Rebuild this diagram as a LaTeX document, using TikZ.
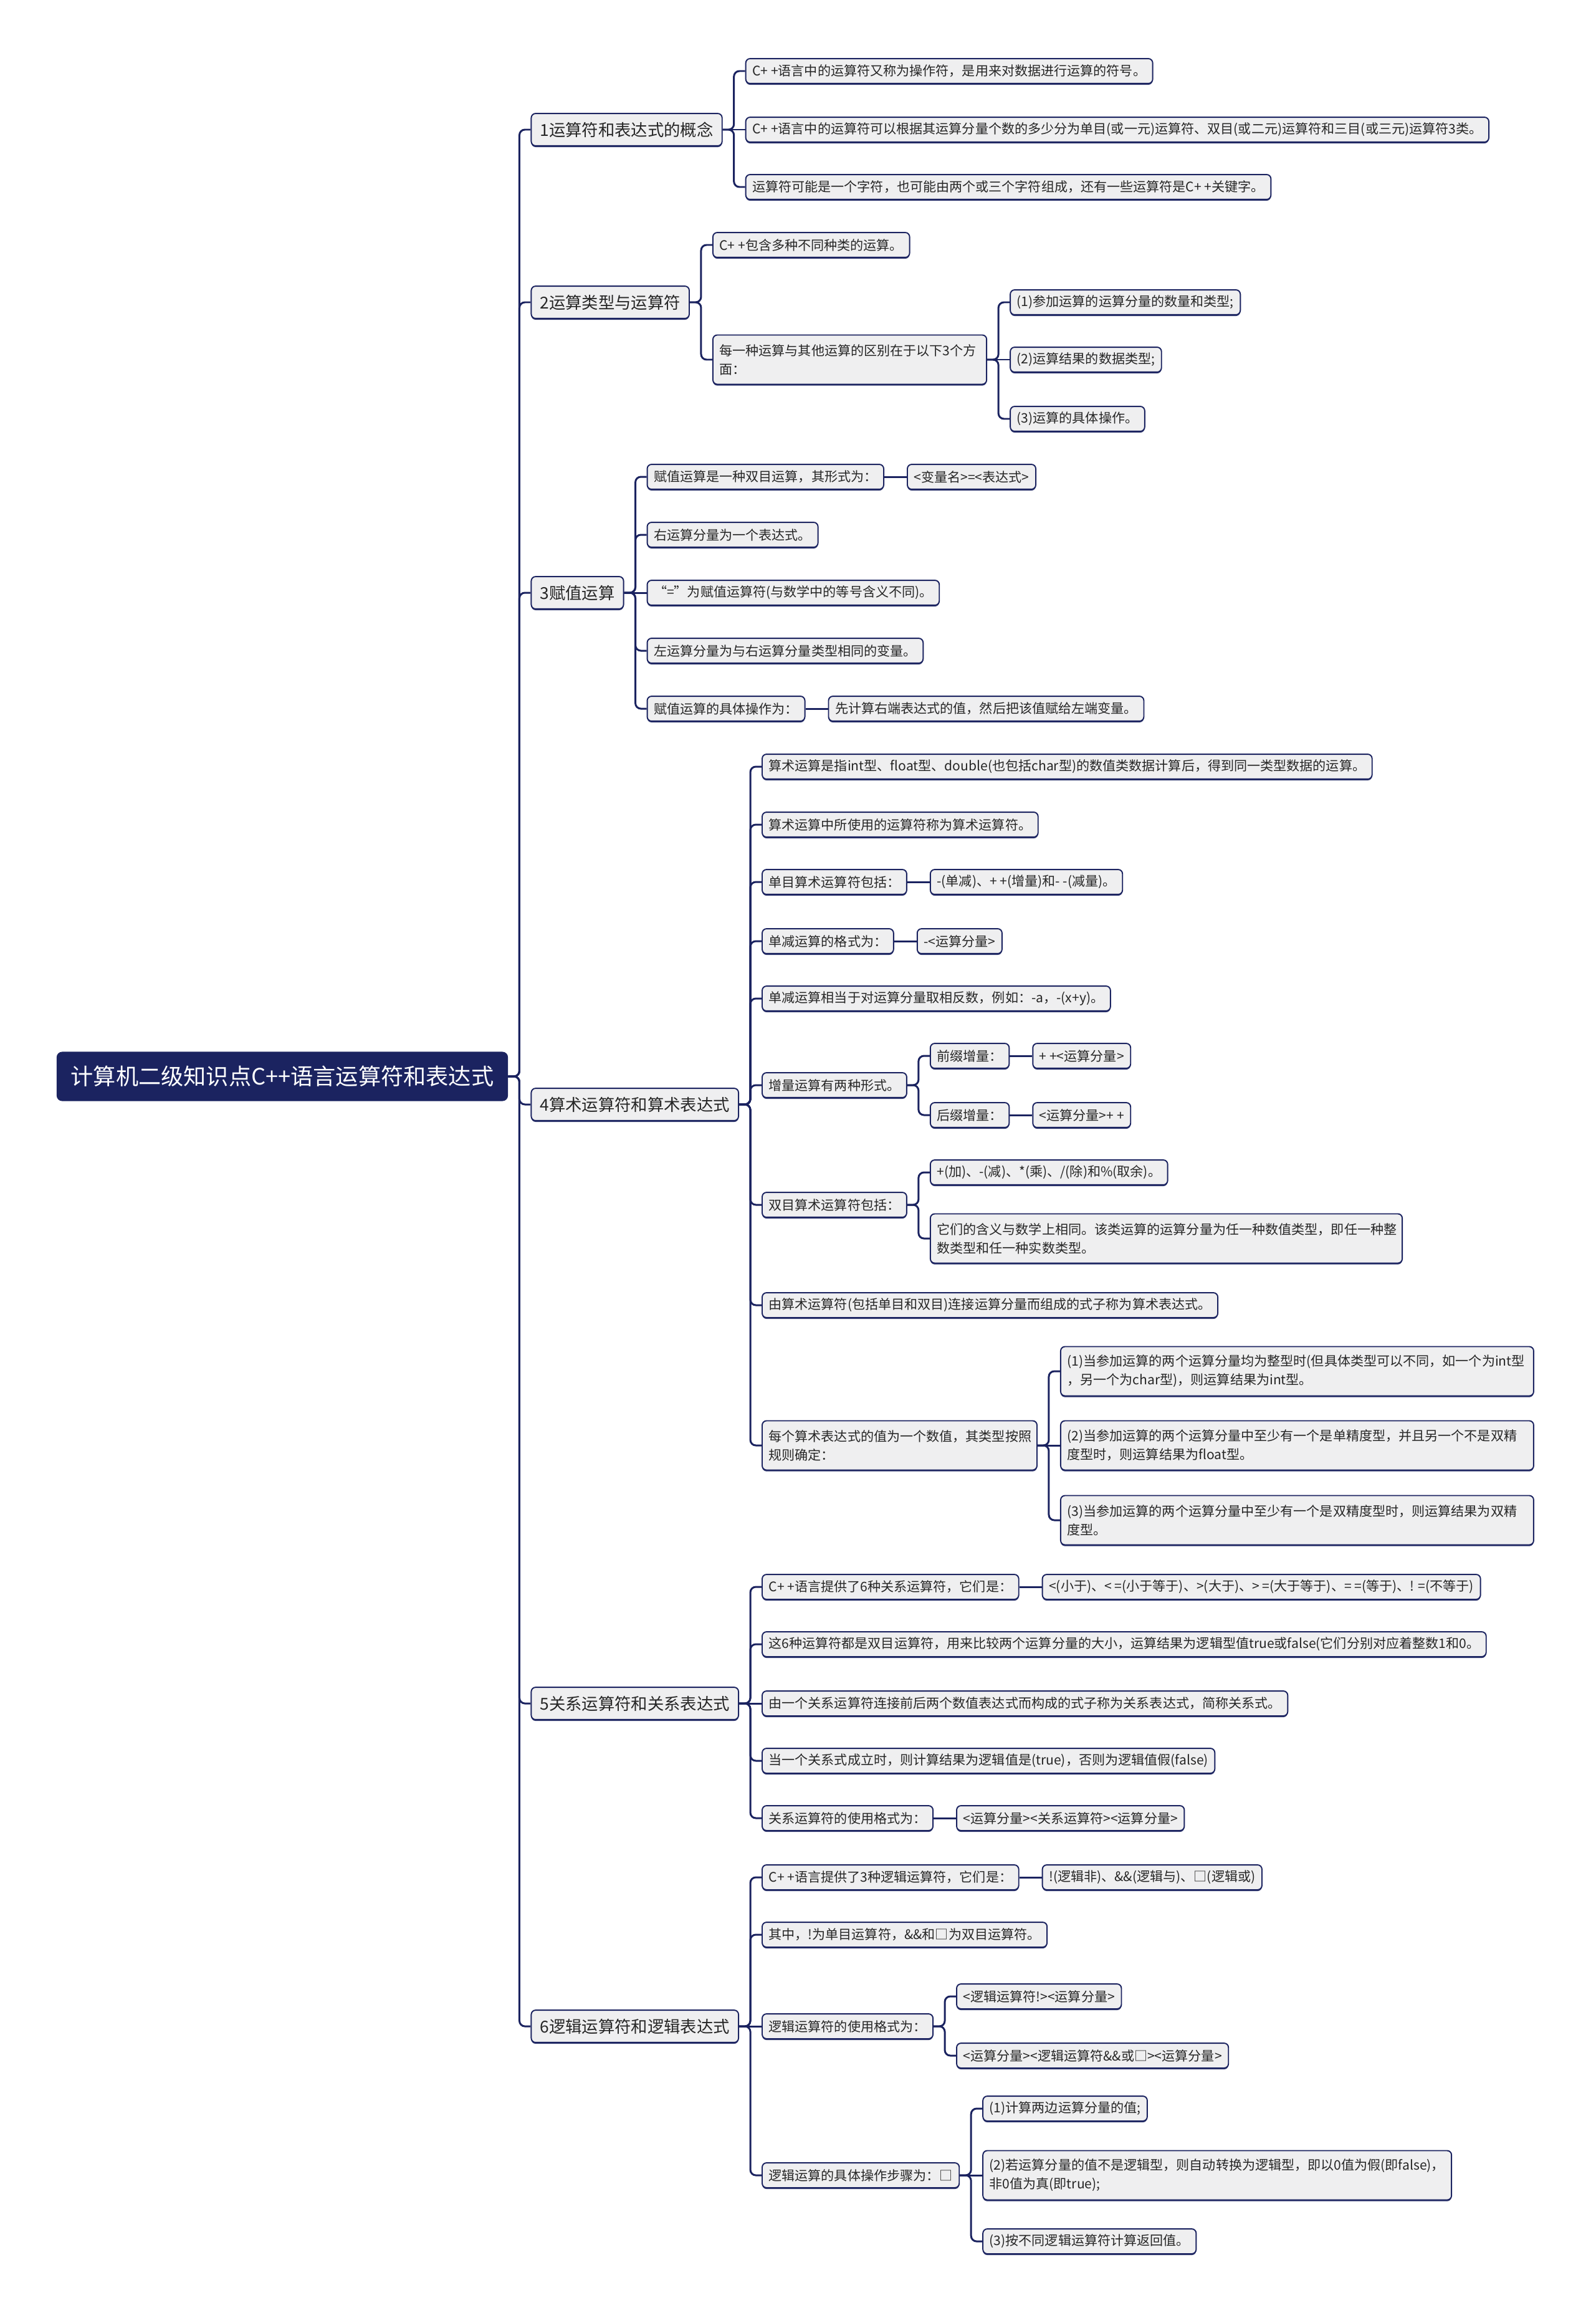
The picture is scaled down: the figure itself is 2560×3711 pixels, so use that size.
\documentclass[tikz,border=0pt]{standalone}
\usepackage{fontspec}
\setmainfont{Noto Sans CJK SC}
\usetikzlibrary{calc,positioning,shadows}
\definecolor{navy}{HTML}{1B2360}
\definecolor{boxgray}{HTML}{EFEFF0}
\definecolor{ink}{HTML}{262626}

\begin{document}
\begin{tikzpicture}[x=0.02cm,y=-0.02cm,
  link/.style={navy,line width=1.7pt,rounded corners=5pt},
  leaf/.style={draw=navy,line width=1.1pt,fill=boxgray,rounded corners=4pt,text=ink,
    font=\fontsize{12}{17}\selectfont,inner xsep=6pt,inner ysep=4pt,minimum height=22.7pt,anchor=west,
    drop shadow={shadow xshift=0pt,shadow yshift=-1.2pt,fill=navy,opacity=.9}},
  wide/.style={leaf,text width=#1,align=left,minimum height=45pt},
  branch/.style={leaf,font=\fontsize{15}{19}\selectfont,inner xsep=8pt,minimum height=29.5pt},
  rootbox/.style={fill=navy,text=white,rounded corners=5pt,font=\fontsize{20.6}{25}\selectfont,
    inner xsep=13pt,minimum height=45pt}]
\useasboundingbox (0,0) rectangle (2560,3711);

\node[rootbox] (root) at (453,1727) {计算机二级知识点C++语言运算符和表达式};

\node[branch] (b1) at ($(root.east)+(36,-1519)$) {1运算符和表达式的概念};
\node[branch] (b2) at ($(root.east)+(36,-1242)$) {2运算类型与运算符};
\node[branch] (b3) at ($(root.east)+(36,-776)$) {3赋值运算};
\node[branch] (b4) at ($(root.east)+(36,45)$) {4算术运算符和算术表达式};
\node[branch] (b5) at ($(root.east)+(36,1006)$) {5关系运算符和关系表达式};
\node[branch] (b6) at ($(root.east)+(36,1524)$) {6逻辑运算符和逻辑表达式};

% 1
\node[leaf] (b1a) at ($(b1.east)+(36,-94)$) {C+ +语言中的运算符又称为操作符，是用来对数据进行运算的符号。};
\node[leaf] (b1b) at ($(b1.east)+(36,0)$) {C+ +语言中的运算符可以根据其运算分量个数的多少分为单目(或一元)运算符、双目(或二元)运算符和三目(或三元)运算符3类。};
\node[leaf] (b1c) at ($(b1.east)+(36,92)$) {运算符可能是一个字符，也可能由两个或三个字符组成，还有一些运算符是C+ +关键字。};

% 2
\node[leaf] (b2a) at ($(b2.east)+(36,-92)$) {C+ +包含多种不同种类的运算。};
\node[wide=238pt] (b2b) at ($(b2.east)+(36,92)$) {每一种运算与其他运算的区别在于以下3个方\\面：};
\node[leaf] (b2b1) at ($(b2b.east)+(36,-92)$) {(1)参加运算的运算分量的数量和类型;};
\node[leaf] (b2b2) at ($(b2b.east)+(36,0)$) {(2)运算结果的数据类型;};
\node[leaf] (b2b3) at ($(b2b.east)+(36,95)$) {(3)运算的具体操作。};

% 3
\node[leaf] (b3a) at ($(b3.east)+(36,-186)$) {赋值运算是一种双目运算，其形式为：};
\node[leaf] (b3a1) at ($(b3a.east)+(36,0)$) {<变量名>=<表达式>};
\node[leaf] (b3b) at ($(b3.east)+(36,-93)$) {右运算分量为一个表达式。};
\node[leaf] (b3c) at ($(b3.east)+(36,0)$) {“=”为赋值运算符(与数学中的等号含义不同)。};
\node[leaf] (b3d) at ($(b3.east)+(36,93)$) {左运算分量为与右运算分量类型相同的变量。};
\node[leaf] (b3e) at ($(b3.east)+(36,186)$) {赋值运算的具体操作为：};
\node[leaf] (b3e1) at ($(b3e.east)+(36,0)$) {先计算右端表达式的值，然后把该值赋给左端变量。};

% 4
\node[leaf] (b4a) at ($(b4.east)+(36,-542)$) {算术运算是指int型、float型、double(也包括char型)的数值类数据计算后，得到同一类型数据的运算。};
\node[leaf] (b4b) at ($(b4.east)+(36,-449)$) {算术运算中所使用的运算符称为算术运算符。};
\node[leaf] (b4c) at ($(b4.east)+(36,-357)$) {单目算术运算符包括：};
\node[leaf] (b4c1) at ($(b4c.east)+(36,0)$) {-(单减)、+ +(增量)和- -(减量)。};
\node[leaf] (b4d) at ($(b4.east)+(36,-262)$) {单减运算的格式为：};
\node[leaf] (b4d1) at ($(b4d.east)+(36,0)$) {-<运算分量>};
\node[leaf] (b4e) at ($(b4.east)+(36,-170)$) {单减运算相当于对运算分量取相反数，例如：-a，-(x+y)。};
\node[leaf] (b4f) at ($(b4.east)+(36,-31)$) {增量运算有两种形式。};
\node[leaf] (b4f1) at ($(b4f.east)+(36,-47)$) {前缀增量：};
\node[leaf] (b4f1a) at ($(b4f1.east)+(36,0)$) {+ +<运算分量>};
\node[leaf] (b4f2) at ($(b4f.east)+(36,48)$) {后缀增量：};
\node[leaf] (b4f2a) at ($(b4f2.east)+(36,0)$) {<运算分量>+ +};
\node[leaf] (b4g) at ($(b4.east)+(36,161)$) {双目算术运算符包括：};
\node[leaf] (b4g1) at ($(b4g.east)+(36,-52)$) {+(加)、-(减)、*(乘)、/(除)和\%(取余)。};
\node[wide=419pt] (b4g2) at ($(b4g.east)+(36,54)$) {它们的含义与数学上相同。该类运算的运算分量为任一种数值类型，即任一种整\\数类型和任一种实数类型。};
\node[leaf] (b4h) at ($(b4.east)+(36,322)$) {由算术运算符(包括单目和双目)连接运算分量而组成的式子称为算术表达式。};
\node[wide=239pt] (b4i) at ($(b4.east)+(36,547)$) {每个算术表达式的值为一个数值，其类型按照\\规则确定：};
\node[wide=420pt] (b4i1) at ($(b4i.east)+(36,-119)$) {(1)当参加运算的两个运算分量均为整型时(但具体类型可以不同，如一个为int型\\，另一个为char型)，则运算结果为int型。};
\node[wide=420pt] (b4i2) at ($(b4i.east)+(36,0)$) {(2)当参加运算的两个运算分量中至少有一个是单精度型，并且另一个不是双精\\度型时，则运算结果为float型。};
\node[wide=420pt] (b4i3) at ($(b4i.east)+(36,120)$) {(3)当参加运算的两个运算分量中至少有一个是双精度型时，则运算结果为双精\\度型。};

% 5
\node[leaf] (b5a) at ($(b5.east)+(36,-187)$) {C+ +语言提供了6种关系运算符，它们是：};
\node[leaf] (b5a1) at ($(b5a.east)+(36,0)$) {<(小于)、< =(小于等于)、>(大于)、> =(大于等于)、= =(等于)、! =(不等于)};
\node[leaf] (b5b) at ($(b5.east)+(36,-95)$) {这6种运算符都是双目运算符，用来比较两个运算分量的大小，运算结果为逻辑型值true或false(它们分别对应着整数1和0。};
\node[leaf] (b5c) at ($(b5.east)+(36,0)$) {由一个关系运算符连接前后两个数值表达式而构成的式子称为关系表达式，简称关系式。};
\node[leaf] (b5d) at ($(b5.east)+(36,92)$) {当一个关系式成立时，则计算结果为逻辑值是(true)，否则为逻辑值假(false)};
\node[leaf] (b5e) at ($(b5.east)+(36,184)$) {关系运算符的使用格式为：};
\node[leaf] (b5e1) at ($(b5e.east)+(36,0)$) {<运算分量><关系运算符><运算分量>};

% 6
\node[leaf] (b6a) at ($(b6.east)+(36,-239)$) {C+ +语言提供了3种逻辑运算符，它们是：};
\node[leaf] (b6a1) at ($(b6a.east)+(36,0)$) {!(逻辑非)、\&\&(逻辑与)、□(逻辑或)};
\node[leaf] (b6b) at ($(b6.east)+(36,-147)$) {其中，!为单目运算符，\&\&和□为双目运算符。};
\node[leaf] (b6c) at ($(b6.east)+(36,0)$) {逻辑运算符的使用格式为：};
\node[leaf] (b6c1) at ($(b6c.east)+(36,-48)$) {<逻辑运算符!><运算分量>};
\node[leaf] (b6c2) at ($(b6c.east)+(36,47)$) {<运算分量><逻辑运算符\&\&或□><运算分量>};
\node[leaf] (b6d) at ($(b6.east)+(36,239)$) {逻辑运算的具体操作步骤为：□};
\node[leaf] (b6d1) at ($(b6d.east)+(36,-107)$) {(1)计算两边运算分量的值;};
\node[wide=416pt] (b6d2) at ($(b6d.east)+(36,0)$) {(2)若运算分量的值不是逻辑型，则自动转换为逻辑型，即以0值为假(即false)，\\非0值为真(即true);};
\node[leaf] (b6d3) at ($(b6d.east)+(36,106)$) {(3)按不同逻辑运算符计算返回值。};

\foreach \p/\c in {root/b1,root/b2,root/b3,root/b4,root/b5,root/b6,
  b1/b1a,b1/b1c,b2/b2a,b2/b2b,b2b/b2b1,b2b/b2b3,b3/b3a,b3/b3b,b3/b3d,b3/b3e,
  b4/b4a,b4/b4b,b4/b4c,b4/b4d,b4/b4e,b4/b4f,b4/b4g,b4/b4h,b4/b4i,
  b4f/b4f1,b4f/b4f2,b4g/b4g1,b4g/b4g2,b4i/b4i1,b4i/b4i3,
  b5/b5a,b5/b5b,b5/b5d,b5/b5e,b6/b6a,b6/b6b,b6/b6d,
  b6c/b6c1,b6c/b6c2,b6d/b6d1,b6d/b6d3}
  \draw[link] (\p.east) -- ++(18,0) |- (\c.west);
\foreach \p/\c in {b1/b1b,b2b/b2b2,b3/b3c,b3a/b3a1,b3e/b3e1,b4c/b4c1,b4d/b4d1,
  b4f1/b4f1a,b4f2/b4f2a,b4i/b4i2,b5/b5c,b5a/b5a1,b5e/b5e1,b6/b6c,b6a/b6a1,b6d/b6d2}
  \draw[link] (\p.east) -- (\c.west);
\end{tikzpicture}
\end{document}
